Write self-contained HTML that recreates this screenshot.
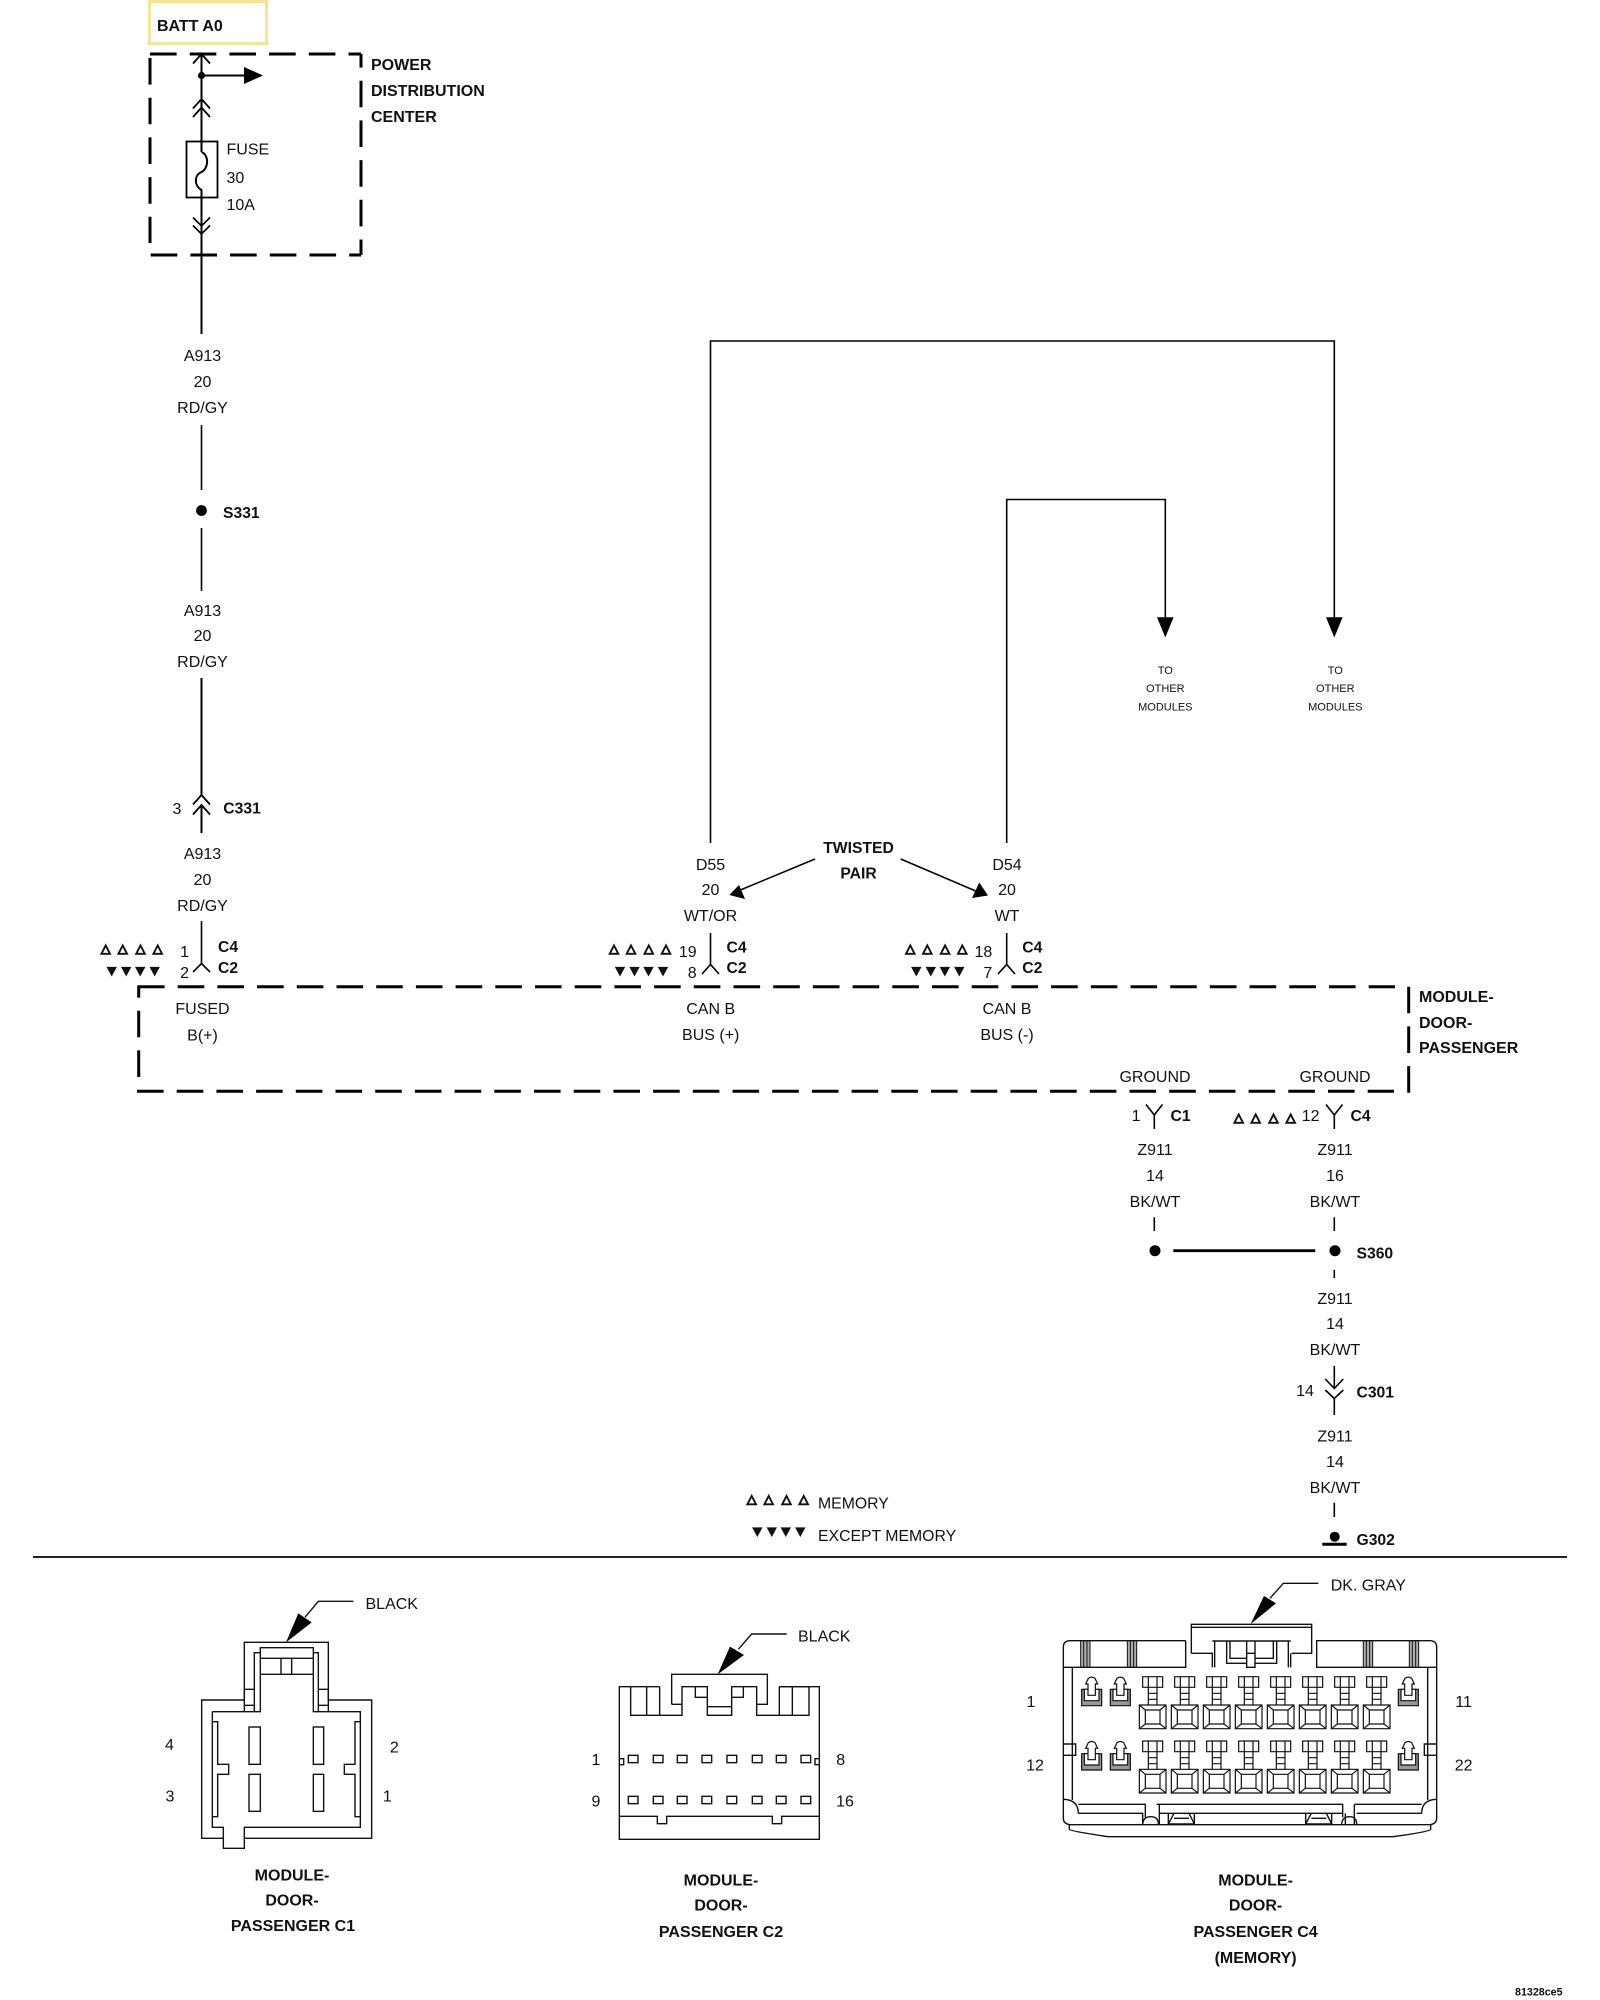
<!DOCTYPE html>
<html><head><meta charset="utf-8"><title>Wiring diagram</title>
<style>
html,body{margin:0;padding:0;background:#fff}
svg{display:block;filter:blur(.3px)}
text{font-family:"Liberation Sans",sans-serif;font-size:16px;fill:#111}
.b{font-weight:bold}
.l{font-size:15.7px}
.m{text-anchor:middle}
.e{text-anchor:end}
.s{font-size:11px}
.w{stroke:#000;stroke-width:2;fill:none}
.c{stroke:#000;stroke-width:1.6;fill:none}
.d{stroke:#000;stroke-width:3;fill:none;stroke-dasharray:26.6 13.1}
.z{stroke:#111;stroke-width:4.2;fill:none}
.t{stroke:#111;stroke-width:3.6;fill:none}
</style></head><body>
<svg xmlns="http://www.w3.org/2000/svg" width="1600" height="2000" viewBox="0 0 1600 2000">
<defs>
<path id="o" d="M-4.3 4.3H4.3L0 -4Z" fill="none" stroke="#111" stroke-width="1.9"/>
<path id="f" d="M-5.2 -4.6H5.2L0 5Z" fill="#111"/>
<g id="oo"><use href="#o" x="0"/><use href="#o" x="17"/><use href="#o" x="34.8"/><use href="#o" x="52"/></g>
<g id="ff"><use href="#f" x="0"/><use href="#f" x="14.5"/><use href="#f" x="28.5"/><use href="#f" x="43"/></g>
<g id="pin" class="t">
<path d="M-30 320H30V352H-30ZM-13 352V405M13 352V405M-13 370H13M-13 388H13M-13 320V352M13 320V352"/>
<path d="M-40 405H40V476H-40ZM-22 420H22V462H-22ZM-40 405L-22 420M40 405L22 420M-40 476L-22 462M40 476L22 462"/>
</g>
<g id="lat">
<path d="M-30 358H30V407H-30Z" fill="#999" stroke="#111" stroke-width="3.6"/>
<path d="M-22 358V392H22V358Z" fill="#fff" stroke="#111" stroke-width="3.6"/>
<path d="M-11 376V342H-18L-10 325Q0 318 10 325L18 342H11V376Z" fill="#fff" stroke="#111" stroke-width="3.6"/>
</g>
<g id="row"><use href="#lat" x="155"/><use href="#lat" x="241"/><use href="#lat" x="1105"/>
<use href="#pin" x="338"/><use href="#pin" x="434"/><use href="#pin" x="530"/><use href="#pin" x="626"/><use href="#pin" x="722"/><use href="#pin" x="818"/><use href="#pin" x="914"/><use href="#pin" x="1010"/></g>
<path id="up" d="M-8.5 9.5L0 0L8.5 9.5" fill="none" stroke="#000" stroke-width="1.8"/>
<g id="band"><path d="M0 0H28V80H0Z" fill="#777" opacity=".6"/><path d="M0 0V80M9 0V80M19 0V80M28 0V80" stroke="#111" stroke-width="3" fill="none"/></g>
</defs>

<!-- BATT -->
<rect x="149.5" y="1.5" width="117" height="42" fill="none" stroke="#f8e29a" stroke-width="3"/>
<text x="157" y="31" class="b">BATT A0</text>

<!-- PDC box -->
<path class="d" d="M150 54H361" />
<path class="d" d="M361 54V255" stroke-dashoffset="13"/>
<path class="d" d="M150.7 255H361" />
<path class="d" d="M150 58V243"/>
<text x="371" y="70" class="b">POWER</text>
<text x="371" y="96" class="b">DISTRIBUTION</text>
<text x="371" y="122" class="b">CENTER</text>

<path class="w" d="M201.5 54V152"/>
<use href="#up" x="201.5" y="54"/>
<circle cx="201.5" cy="75.5" r="3.6" fill="#000"/>
<path class="w" d="M201.5 75.5H245"/>
<path d="M244 67V84L263 75.5Z" fill="#000"/>
<use href="#up" x="201.5" y="99"/><use href="#up" x="201.5" y="107.5"/>
<rect x="186.5" y="141.5" width="31" height="56" fill="none" stroke="#000" stroke-width="1.8"/>
<path class="w" d="M201.5 152C209 155 209 168 201.5 172C194 175 194 186 201.5 190V197"/>
<path class="w" d="M201.5 197V334"/>
<path class="c" d="M193 217.5L201.5 226L210 217.5M193 225.5L201.5 234L210 225.5"/>
<text x="226.5" y="154.5">FUSE</text>
<text x="226.5" y="183">30</text>
<text x="226.5" y="210">10A</text>

<text x="202.5" y="361" class="m">A913</text>
<text x="202.5" y="387" class="m">20</text>
<text x="202.5" y="413" class="m">RD/GY</text>
<path class="c" d="M201.5 425V490M201.5 528V591"/>
<circle cx="201.5" cy="510.5" r="5.4" fill="#000"/>
<text x="223" y="518" class="b l">S331</text>
<text x="202.5" y="616" class="m">A913</text>
<text x="202.5" y="641" class="m">20</text>
<text x="202.5" y="667" class="m">RD/GY</text>
<path class="w" d="M201.5 678V795M201.5 805V833"/>
<use href="#up" x="201.5" y="795"/><use href="#up" x="201.5" y="805"/>
<text x="177" y="814" class="m">3</text>
<text x="223.3" y="813.5" class="b l">C331</text>
<text x="202.5" y="859" class="m">A913</text>
<text x="202.5" y="885" class="m">20</text>
<text x="202.5" y="911" class="m">RD/GY</text>

<!-- C4/C2 fused -->
<path class="c" d="M201.5 921V963M193 972L201.5 963.5L210 972"/>
<text x="189" y="957" class="e">1</text>
<text x="189" y="978" class="e">2</text>
<text x="218" y="952" class="b l">C4</text>
<text x="218" y="973" class="b l">C2</text>
<use href="#oo" x="105.7" y="949.5"/><use href="#ff" x="111.7" y="971.5"/>

<!-- Module box -->
<path class="d" d="M138 986.7H1395"/>
<path class="d" d="M137 1091.3H1394"/>
<path class="d" d="M138.7 985.5V1077" stroke-dashoffset="14.5"/>
<path class="d" d="M1408.7 986.7V1093"/>
<text x="1419" y="1002" class="b">MODULE-</text>
<text x="1419" y="1028" class="b">DOOR-</text>
<text x="1419" y="1053" class="b">PASSENGER</text>
<text x="202.5" y="1014" class="m">FUSED</text>
<text x="202.5" y="1040.5" class="m">B(+)</text>
<text x="710.7" y="1014" class="m">CAN B</text>
<text x="710.7" y="1040" class="m">BUS (+)</text>
<text x="1007" y="1014" class="m">CAN B</text>
<text x="1007" y="1040" class="m">BUS (-)</text>
<text x="1155" y="1082" class="m">GROUND</text>
<text x="1335" y="1082" class="m">GROUND</text>

<!-- CAN wires -->
<path class="c" d="M710.5 843V341H1334.3V618"/>
<path class="c" d="M1006.7 843V499.5H1165.3V618"/>
<path d="M1157 617.3H1173.6L1165.3 637.5Z" fill="#000"/>
<path d="M1326 617.3H1342.6L1334.3 637.5Z" fill="#000"/>
<text x="1165.3" y="674" class="m s">TO</text><text x="1165.3" y="692" class="m s">OTHER</text><text x="1165.3" y="710.5" class="m s">MODULES</text>
<text x="1335.3" y="674" class="m s">TO</text><text x="1335.3" y="692" class="m s">OTHER</text><text x="1335.3" y="710.5" class="m s">MODULES</text>
<text x="858.5" y="853" class="m b l">TWISTED</text>
<text x="858.5" y="878.5" class="m b l">PAIR</text>
<path class="c" d="M815 859L738 891M900.7 859L978 892"/>
<path d="M729.3 895L739 885L745 899Z" fill="#000"/>
<path d="M988 895.5L979.3 882.5L972 898Z" fill="#000"/>
<text x="710.5" y="870" class="m">D55</text><text x="710.5" y="895" class="m">20</text><text x="710.5" y="921" class="m">WT/OR</text>
<text x="1007" y="870" class="m">D54</text><text x="1007" y="895" class="m">20</text><text x="1007" y="921" class="m">WT</text>
<path class="c" d="M710.5 933V964M702 974L710.5 964.5L719 974"/>
<path class="c" d="M1006.7 933V964M998 974L1006.7 964.5L1015 974"/>
<text x="696.7" y="957" class="e">19</text><text x="696.7" y="978" class="e">8</text>
<text x="726.5" y="952.3" class="b l">C4</text><text x="726.5" y="973" class="b l">C2</text>
<text x="992.3" y="957" class="e">18</text><text x="992.3" y="978" class="e">7</text>
<text x="1022.3" y="952.3" class="b l">C4</text><text x="1022.3" y="973" class="b l">C2</text>
<use href="#oo" x="614" y="949.5"/><use href="#ff" x="620" y="971.5"/>
<use href="#oo" x="910.3" y="949.5"/><use href="#ff" x="916.3" y="971.5"/>

<!-- Ground -->
<path class="c" d="M1146 1104.5L1154.3 1115L1162.5 1104.5M1154.3 1115V1129"/>
<path class="c" d="M1326 1104.5L1334.3 1115L1342.5 1104.5M1334.3 1115V1129"/>
<text x="1140.5" y="1121" class="e">1</text>
<text x="1170.5" y="1121" class="b l">C1</text>
<text x="1319.5" y="1121" class="e">12</text>
<text x="1350.5" y="1121" class="b l">C4</text>
<use href="#oo" x="1238.7" y="1118.5"/>
<text x="1155" y="1155" class="m">Z911</text><text x="1155" y="1181" class="m">14</text><text x="1155" y="1207" class="m">BK/WT</text>
<text x="1335" y="1155" class="m">Z911</text><text x="1335" y="1181" class="m">16</text><text x="1335" y="1207" class="m">BK/WT</text>
<path class="c" d="M1154.3 1217.3V1231M1334.3 1217.3V1231M1334.3 1270V1278M1334.3 1366V1388M1334.3 1398V1415M1334.3 1502.7V1517"/>
<circle cx="1155" cy="1250.7" r="5.5" fill="#000"/><circle cx="1335" cy="1250.7" r="5.5" fill="#000"/>
<path d="M1173.3 1250.7H1315.3" stroke="#000" stroke-width="2.8"/>
<text x="1356.5" y="1258.3" class="b l">S360</text>
<text x="1335" y="1304" class="m">Z911</text><text x="1335" y="1329" class="m">14</text><text x="1335" y="1355" class="m">BK/WT</text>
<path class="c" d="M1325.3 1379L1334.3 1388.5L1343.3 1379M1325.3 1390L1334.3 1398.5L1343.3 1390"/>
<text x="1305" y="1396" class="m">14</text>
<text x="1356.5" y="1397.3" class="b l">C301</text>
<text x="1335" y="1441.7" class="m">Z911</text><text x="1335" y="1467" class="m">14</text><text x="1335" y="1493" class="m">BK/WT</text>
<circle cx="1334.7" cy="1536.7" r="5" fill="#000"/>
<path d="M1322.3 1544.2H1346.7" stroke="#000" stroke-width="3"/>
<text x="1356.5" y="1545" class="b l">G302</text>
<path d="M33 1557H1567" stroke="#222" stroke-width="2"/>

<!-- Legend -->
<use href="#oo" x="751.7" y="1500"/><use href="#ff" x="757.3" y="1532"/>
<text x="818" y="1508.5" style="font-size:15.8px">MEMORY</text>
<text x="818" y="1541" style="font-size:15.8px">EXCEPT MEMORY</text>

<!-- C1 -->
<text x="365.5" y="1609">BLACK</text>
<g transform="translate(150 1580) scale(.33333)">
<path class="z" d="M610 64H505L465 112"/>
<path d="M408 187L445 100L485 127Z" fill="#000"/>
<path class="z" d="M283 360V187H535V360H665V775H283V805H220V775H155V360H283"/>
<path class="z" d="M187 395V742H220V775M283 775V742H631V395H490V203H331V395H187"/>
<path class="z" d="M313 395V218H331M505 395V218H490M331 235H490M331 283H490M393 235V283M425 235V283"/>
<path class="z" d="M283 328H313M283 376H313M283 328V395M535 328H505M535 376H505M535 328V395"/>
<rect class="z" x="297" y="441" width="34" height="112"/><rect class="z" x="297" y="583" width="34" height="111"/>
<rect class="z" x="490" y="441" width="31" height="112"/><rect class="z" x="490" y="583" width="31" height="111"/>
<path class="z" d="M187 425H203V553H236V583H203V710H187M631 425H615V553H583V583H615V710H631"/>
</g>
<text x="169.5" y="1750" class="m">4</text><text x="170" y="1801.7" class="m">3</text>
<text x="394.3" y="1752.7" class="m">2</text><text x="387.3" y="1801.7" class="m">1</text>
<text x="292" y="1880.5" class="m b">MODULE-</text><text x="292" y="1905.5" class="m b">DOOR-</text><text x="293" y="1931" class="m b">PASSENGER C1</text>

<!-- C2 -->
<text x="798" y="1641.7">BLACK</text>
<g transform="translate(580 1610) scale(.33333)">
<path class="z" d="M620 72H515L475 118"/>
<path d="M413 193L450 110L492 135Z" fill="#000"/>
<path class="z" d="M239 230H118V688H718V230H598"/>
<path class="z" d="M152 230V316H306V230H382V316H455V230H530V316H687V230M200 230V316M239 230V316M598 230V316M637 230V316M598 230H687"/>
<path class="z" d="M346 230V262H382M490 230V262H455M382 290H455M275 283V193H562V283H530M275 283H306"/>
<path class="z" d="M118 619H232V641H260V619H577V641H605V619H718"/>
<path class="z" d="M118 446H131V464H118M718 446H705V464H718"/>
<g class="z">
<rect x="145" y="436" width="29" height="22"/><rect x="220" y="436" width="29" height="22"/><rect x="292" y="436" width="29" height="22"/><rect x="366" y="436" width="29" height="22"/><rect x="441" y="436" width="29" height="22"/><rect x="517" y="436" width="29" height="22"/><rect x="589" y="436" width="29" height="22"/><rect x="663" y="436" width="29" height="22"/>
<rect x="145" y="559" width="29" height="22"/><rect x="220" y="559" width="29" height="22"/><rect x="292" y="559" width="29" height="22"/><rect x="366" y="559" width="29" height="22"/><rect x="441" y="559" width="29" height="22"/><rect x="517" y="559" width="29" height="22"/><rect x="589" y="559" width="29" height="22"/><rect x="663" y="559" width="29" height="22"/>
</g>
</g>
<text x="596" y="1765" class="m">1</text><text x="596" y="1806.7" class="m">9</text>
<text x="840.7" y="1765" class="m">8</text><text x="845" y="1806.7" class="m">16</text>
<text x="721" y="1885.3" class="m b">MODULE-</text><text x="721" y="1910.5" class="m b">DOOR-</text><text x="721" y="1937" class="m b">PASSENGER C2</text>

<!-- C4 -->
<text x="1330.7" y="1590.7">DK. GRAY</text>
<g transform="translate(1040 1570) scale(.33333)">
<path class="z" d="M835 40H730L690 85"/>
<path d="M632 162L672 78L708 100Z" fill="#000"/>
<use href="#band" x="122" y="212"/><use href="#band" x="262" y="212"/><use href="#band" x="970" y="212"/><use href="#band" x="1108" y="212"/>
<path class="z" d="M437 212H90Q70 212 70 232V745Q70 760 88 764V778Q90 783 205 800H1060Q1170 785 1172 778V764Q1190 760 1190 745V232Q1190 212 1170 212H830V292H1190M437 212V292H70"/>
<path class="z" d="M88 764H1172"/>
<path class="z" d="M454 250V163H815V250H755M454 172H815M454 250H517V292M524 292V213H745V292M752 292V250M517 213H524M745 213H752"/>
<path class="z" d="M560 213V280H620M570 213V265H620M710 213V280H645M700 213V265H645M620 213V250M645 213V250M620 250H645V292H620Z"/>
<path class="z" d="M97 292V690M1163 292V690M70 522H107V556H70M1190 522H1153V556H1190"/>
<path class="z" d="M72 688Q115 690 115 730M1188 688Q1145 690 1145 730M115 703H316V742M115 730H308V762M350 703H908V742M358 703V762M358 730H908M943 703H1145M950 730H1145M943 703V762M916 730V762"/>
<path class="z" d="M308 762Q310 740 332 740Q355 740 355 762M905 762Q907 740 928 740Q950 740 950 762"/>
<path class="z" d="M385 730V762H463V730M402 730L385 762M447 730L463 762M402 745H447M797 730V762H875V730M814 730L797 762M859 730L875 762M814 745H859"/>
<use href="#row"/><use href="#row" y="193"/>
</g>
<text x="1031" y="1707" class="m">1</text><text x="1463.6" y="1707" class="m">11</text>
<text x="1035" y="1770.5" class="m">12</text><text x="1463.6" y="1770.5" class="m">22</text>
<text x="1255.6" y="1885.3" class="m b">MODULE-</text><text x="1255.6" y="1910.5" class="m b">DOOR-</text><text x="1255.6" y="1937" class="m b">PASSENGER C4</text><text x="1255.6" y="1963" class="m b">(MEMORY)</text>
<text x="1515" y="1995.7" class="b" style="font-size:10.7px">81328ce5</text>
</svg>
</body></html>
